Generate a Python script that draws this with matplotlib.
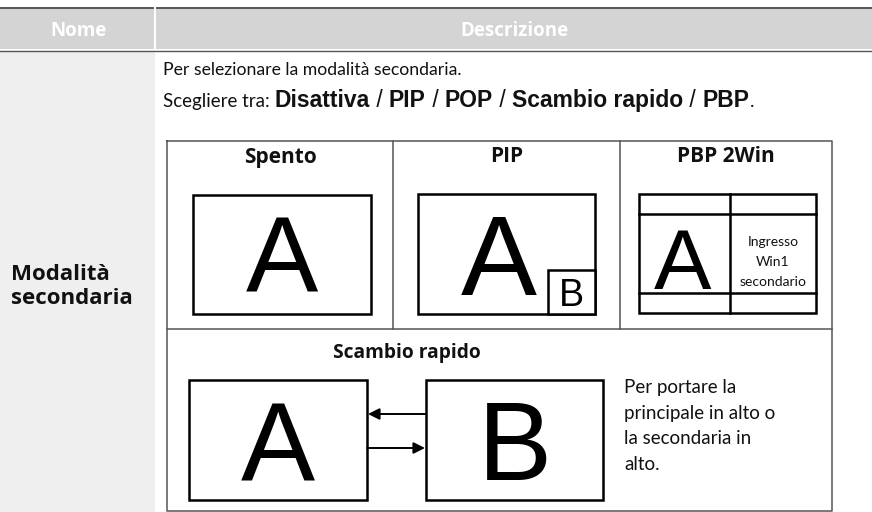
import matplotlib
matplotlib.use("Agg")
import matplotlib.pyplot as plt
from matplotlib.patches import Rectangle

# testi della tabella
header_labels = ["Nome", "Descrizione"]
row_name = ["Modalità", "secondaria"]
intro_line = "Per selezionare la modalità secondaria."
choice_parts = [("Scegliere tra: ", "plain"), ("Disattiva", "bold"), (" / ", "sep"),
                ("PIP", "bold"), (" / ", "sep"), ("POP", "bold"), (" / ", "sep"),
                ("Scambio rapido", "bold"), (" / ", "sep"), ("PBP", "bold"), (".", "plain")]
mode_titles = ["Spento", "PIP", "PBP 2Win"]
pbp_side = ["Ingresso", "Win1", "secondario"]
swap_title = "Scambio rapido"
swap_note = ["Per portare la", "principale in alto o", "la secondaria in", "alto."]

W, H = 872, 512
fig = plt.figure(figsize=(W / 100, H / 100), dpi=100)
ax = fig.add_axes([0, 0, 1, 1])
ax.set_xlim(0, W)
ax.set_ylim(H, 0)
ax.axis("off")

GILL = "Lato"
ARIAL = "Liberation Sans"
BOLD = "Open Sans"
LINE = "#555555"
INK = "#111111"

# intestazione
ax.add_patch(Rectangle((0, 8), W, 41, facecolor="#d4d4d4", edgecolor="none"))
ax.plot([0, W], [8, 8], color="#4a4a4a", lw=1.3)
ax.plot([155, 155], [8, 49], color="white", lw=1.5)
ax.plot([0, W], [50.5, 50.5], color=LINE, lw=1.0)
ax.text(78, 31, header_labels[0], color="white", fontsize=13.5, fontweight="bold",
        family=BOLD, ha="center", va="center")
ax.text(514, 31, header_labels[1], color="white", fontsize=13.5, fontweight="bold",
        family=BOLD, ha="center", va="center")

# colonna sinistra
ax.add_patch(Rectangle((0, 51), 155, H - 51, facecolor="#efefef", edgecolor="none"))
ax.text(11, 275, row_name[0], fontsize=16, fontweight="bold", family=BOLD,
        ha="left", va="center", color=INK)
ax.text(11, 299, row_name[1], fontsize=16, fontweight="bold", family=BOLD,
        ha="left", va="center", color=INK)

# testo descrizione
ax.text(163, 75, intro_line, fontsize=12.7, family=GILL, va="baseline", color=INK)

fig.canvas.draw()
rend = fig.canvas.get_renderer()


def advance(s, **kw):
    t1 = ax.text(0, 0, s + "|", **kw)
    t2 = ax.text(0, 0, "|", **kw)
    w = t1.get_window_extent(rend).width - t2.get_window_extent(rend).width
    t1.remove()
    t2.remove()
    return w


x = 163
for s, kind in choice_parts:
    if kind == "plain":
        kw = dict(fontsize=13.5, family=GILL)
    elif kind == "bold":
        kw = dict(fontsize=16.5, family=ARIAL, fontweight="bold")
    else:
        kw = dict(fontsize=16.5, family=ARIAL)
    ax.text(x, 107, s, va="baseline", color=INK, **kw)
    x += advance(s, **kw)

# griglia interna
L, R, T, B, MID = 167, 832, 141, 511, 329
cols = [L, 393, 620, R]
ax.plot([L, R, R, L, L], [T, T, B, B, T], color=LINE, lw=1.1)
ax.plot([L, R], [MID, MID], color=LINE, lw=1.1)
for cx in cols[1:3]:
    ax.plot([cx, cx], [T, MID], color=LINE, lw=1.1)

for i, title in enumerate(mode_titles):
    cx = (cols[i] + cols[i + 1]) / 2
    ax.text(cx, 157, title, fontsize=15, fontweight="bold", family=BOLD,
            ha="center", va="center", color=INK)

BOX_LW = 1.8


def screen(x0, y0, x1, y1):
    ax.add_patch(Rectangle((x0, y0), x1 - x0, y1 - y0, facecolor="white",
                           edgecolor="black", lw=BOX_LW))


def big(xc, yc, s, size=78):
    ax.text(xc, yc, s, fontsize=size, family=ARIAL, ha="center", va="center_baseline",
            color="black")


# Spento
screen(193, 195, 371, 314)
big(282, 254, "A")

# PIP
screen(418, 194, 595, 314)
big(499, 254, "A", size=82)
screen(548, 270, 595, 314)
big(571.5, 292, "B", size=27)

# PBP 2Win
screen(639, 194, 816, 313)
ax.plot([730, 730], [194, 313], color="black", lw=BOX_LW)
ax.plot([639, 816], [214, 214], color="black", lw=BOX_LW)
ax.plot([639, 816], [293, 293], color="black", lw=BOX_LW)
big(683, 258, "A", size=62)
for k, s in enumerate(pbp_side):
    ax.text(773, 242 + k * 20, s, fontsize=10, family=GILL, ha="center", va="center",
            color=INK)

# Scambio rapido
ax.text(407, 353, swap_title, fontsize=13.8, fontweight="bold", family=BOLD,
        ha="center", va="center", color=INK)
screen(189, 380, 367, 500)
big(278, 440, "A", size=80)
screen(426, 380, 603, 500)
big(514.5, 440, "B", size=80)
ax.annotate("", xy=(368, 414), xytext=(426, 414),
            arrowprops=dict(arrowstyle="-|>", color="black", lw=1.4, mutation_scale=17,
                            shrinkA=0, shrinkB=0))
ax.annotate("", xy=(425, 448), xytext=(367, 448),
            arrowprops=dict(arrowstyle="-|>", color="black", lw=1.4, mutation_scale=17,
                            shrinkA=0, shrinkB=0))
for k, s in enumerate(swap_note):
    ax.text(624, 388 + k * 25.5, s, fontsize=13.5, family=GILL, ha="left", va="center",
            color=INK)

fig.savefig("out.png", dpi=100)
